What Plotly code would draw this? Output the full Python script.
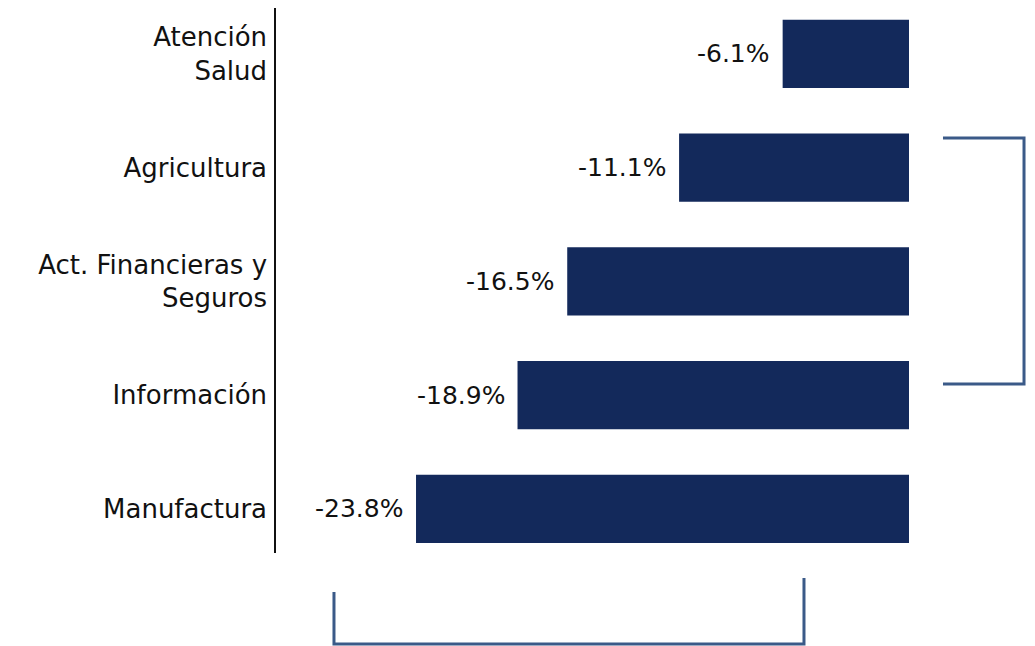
import plotly.graph_objects as go

categories = ["Manufactura", "Información", "Act. Financieras y<br>Seguros", "Agricultura", "Atención<br>Salud"]
values = [-23.8, -18.9, -16.5, -11.1, -6.1]
value_labels = ["-23.8%", "-18.9%", "-16.5%", "-11.1%", "-6.1%"]

BAR_COLOR = "#13295b"
BRACKET_COLOR = "#3b5a88"
FONT = "DejaVu Sans, Liberation Sans, Arial, sans-serif"

fig = go.Figure()
fig.add_trace(go.Bar(
    y=categories, x=values, orientation="h",
    marker=dict(color=BAR_COLOR, line=dict(width=0)),
    width=0.6, hoverinfo="skip",
))

for c, v, t in zip(categories, values, value_labels):
    fig.add_annotation(x=v, y=c, xref="x", yref="y", text=t, showarrow=False,
                       xanchor="right", yanchor="middle", xshift=-11,
                       font=dict(size=25, color="#111111", family=FONT))

# Right bracket
fig.add_shape(type="path", xref="paper", yref="paper",
              path="M 1.0537 0.7615 L 1.1817 0.7615 L 1.1817 0.3101 L 1.0537 0.3101",
              line=dict(color=BRACKET_COLOR, width=3))
# Bottom bracket
fig.add_shape(type="path", xref="paper", yref="paper",
              path="M 0.0916 -0.0716 L 0.0916 -0.1670 L 0.8341 -0.1670 L 0.8341 -0.0459",
              line=dict(color=BRACKET_COLOR, width=3))

fig.update_layout(
    width=1035, height=646,
    margin=dict(l=268, r=134, t=0, b=101),
    paper_bgcolor="white", plot_bgcolor="white",
    showlegend=False,
    font=dict(family=FONT, size=26, color="#111111"),
    xaxis=dict(range=[-30.56, 0], visible=False, fixedrange=True),
    yaxis=dict(type="category", range=[-0.387, 4.404], showline=True,
               linecolor="#111111", linewidth=1.5, showgrid=False, zeroline=False,
               ticks="", ticklabelstandoff=2,
               tickfont=dict(size=26, family=FONT, color="#111111")),
)

fig.write_html("out.html")
